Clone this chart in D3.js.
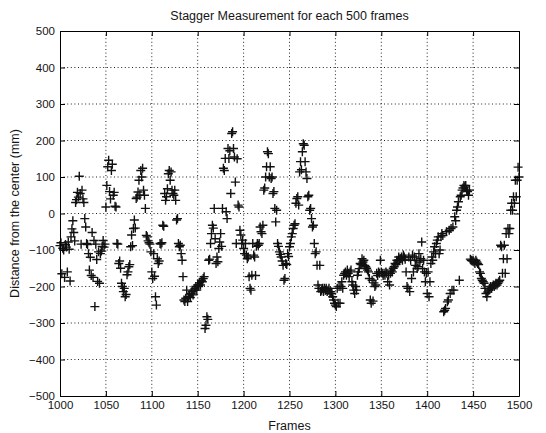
<!DOCTYPE html>
<html>
<head>
<meta charset="utf-8">
<script src="https://cdn.jsdelivr.net/npm/d3@7/dist/d3.min.js"></script>
<style>
  body { margin: 0; background: #fff; }
  text { font-family: "Liberation Sans", Arial, sans-serif; fill: #151515; }
</style>
</head>
<body>
<div id="chart"></div>
<script>
// Size of the figure and of the plot box.
var width = 546;
var height = 433;
var margin = {top: 31, right: 27, bottom: 37, left: 60};

var titleText = "Stagger Measurement for each 500 frames";
var xLabel = "Frames";
var yLabel = "Distance from the center (mm)";

var xTicks = [1000, 1050, 1100, 1150, 1200, 1250, 1300, 1350, 1400, 1450, 1500];
var yTicks = [-500, -400, -300, -200, -100, 0, 100, 200, 300, 400, 500];

// One distance per frame, in blocks of 50 frames.
var firstFrame = 1000;
var framesPerBlock = 50;
var d1000 = [-88,-80,-165,-95,-100,-175,-85,-92,-160,-78,-98,-185,-64,-42,-20,-52,-75,30,38,58,
  45,102,55,-84,64,40,30,-14,-37,-82,-85,-110,-155,-120,-170,-52,-175,-74,-255,-84,
  -126,-186,-105,-191,-110,-103,-90,-74,-92,-84];
var d1050 = [18,77,128,146,60,40,118,135,50,58,20,18,-82,-84,-137,-130,-150,-191,-200,-214,
  -205,-228,-222,-168,-160,-146,-140,-91,-59,-88,-41,-18,-40,41,45,59,91,50,118,100,
  124,64,50,14,-60,-64,-75,-80,-84,-105];
var d1100 = [-160,-178,-110,-172,-228,-251,-124,-137,-130,-82,-84,-80,-32,-35,55,36,46,68,109,118,
  91,114,64,55,50,64,36,-18,-14,-82,-91,-87,-110,-128,-173,-237,-241,-232,-210,-241,
  -228,-223,-230,-219,-214,-223,-210,-205,-200,-210];
var d1150 = [-196,-200,-190,-196,-183,-187,-178,-173,-315,-306,-283,-290,-128,-125,-82,-55,-32,-40,14,-69,
  -137,-119,-132,-96,-78,-55,-90,14,124,118,151,5,-14,178,151,172,55,219,224,178,
  155,86,-82,150,23,18,-46,-59,-82,-73];
var d1200 = [-96,-110,-82,-114,-124,-119,-173,-205,-210,-169,-82,-114,-119,-170,-90,-82,-87,-82,-37,-50,
  -55,-32,64,70,100,128,169,164,100,128,96,100,55,60,14,-23,9,-82,-90,-105,
  -112,-119,-130,-142,-183,-178,-137,-140,-110,-118];
var d1250 = [-91,-82,-64,-55,-41,-32,-28,28,41,46,23,114,142,120,169,191,187,142,114,96,
  46,50,9,14,-14,-37,-32,-82,-110,-105,-142,-196,-205,-142,-214,-210,-205,-214,-205,-210,
  -205,-214,-210,-205,-219,-214,-219,-228,-237,-246];
var d1300 = [-251,-255,-205,-246,-200,-246,-200,-187,-205,-169,-164,-160,-169,-155,-164,-173,-160,-155,-187,-196,
  -210,-219,-200,-210,-169,-160,-151,-137,-140,-124,-133,-128,-142,-146,-150,-155,-160,-178,-237,-246,
  -183,-240,-190,-200,-196,-164,-170,-160,-164,-128];
var d1350 = [-160,-164,-170,-164,-169,-160,-164,-187,-169,-196,-164,-155,-160,-150,-146,-137,-140,-128,-133,-119,
  -128,-124,-119,-128,-114,-119,-125,-160,-200,-205,-119,-214,-128,-178,-114,-160,-119,-142,-128,-151,
  -146,-110,-133,-124,-78,-151,-128,-160,-187,-164];
var d1400 = [-219,-160,-228,-187,-137,-119,-128,-105,-91,-110,-82,-73,-64,-110,-100,-64,-55,-60,-269,-265,
  -260,-50,-242,-237,-46,-219,-41,-210,-37,-210,-9,-20,9,18,32,-183,46,50,64,70,
  77,73,77,64,60,50,64,-125,-128,-130];
var d1450 = [-128,-133,-137,-128,-133,-137,-140,-160,-164,-178,-183,-187,-191,-205,-219,-228,-215,-210,-205,-200,
  -205,-200,-196,-200,-196,-191,-196,-191,-187,-183,-87,-91,-164,-124,-87,-164,-55,-124,-41,-55,
  -41,9,28,9,46,28,91,46,91,127,100];

var blocks = [d1000, d1050, d1100, d1150, d1200, d1250, d1300, d1350, d1400, d1450];

var points = [];
blocks.forEach(function(block, b) {
  block.forEach(function(v, i) {
    points.push({frame: firstFrame + b * framesPerBlock + i, dist: v});
  });
});

var svg = d3.select("#chart").append("svg")
    .attr("width", width)
    .attr("height", height);

svg.append("rect").attr("width", width).attr("height", height).attr("fill", "#fff");

var x = d3.scaleLinear()
    .domain([1000, 1500])
    .range([margin.left, width - margin.right]);
var y = d3.scaleLinear()
    .domain([-500, 500])
    .range([height - margin.bottom, margin.top]);

// Dotted grid
var grid = svg.append("g")
    .attr("stroke", "#222")
    .attr("stroke-width", 1)
    .attr("stroke-dasharray", "1,2.6");
grid.selectAll("line.gx")
    .data(xTicks.slice(1, -1))
    .enter().append("line")
    .attr("x1", function(d) { return x(d); })
    .attr("x2", function(d) { return x(d); })
    .attr("y1", y(500))
    .attr("y2", y(-500));
grid.selectAll("line.gy")
    .data(yTicks.slice(1, -1))
    .enter().append("line")
    .attr("x1", x(1000))
    .attr("x2", x(1500))
    .attr("y1", function(d) { return y(d); })
    .attr("y2", function(d) { return y(d); });

// Markers
svg.append("g")
    .attr("stroke", "#111")
    .attr("stroke-width", 1.4)
    .attr("fill", "none")
  .selectAll("path")
    .data(points)
    .enter().append("path")
    .attr("transform", function(d) { return "translate(" + x(d.frame) + "," + y(d.dist) + ")"; })
    .attr("d", "M-4.5,0H4.5M0,-4.5V4.5");

// Axes with inward ticks on every side, MATLAB style
function styleAxis(g) {
  g.selectAll(".domain").attr("stroke", "#000").attr("stroke-width", 1);
  g.selectAll(".tick line").attr("stroke", "#000");
  g.selectAll("text").attr("font-size", 11.5).attr("fill", "#151515")
    .attr("font-family", "'Liberation Sans', Arial, sans-serif");
}

svg.append("g")
    .attr("transform", "translate(0," + y(-500) + ")")
    .call(d3.axisBottom(x).tickValues(xTicks).tickFormat(d3.format("d"))
      .tickSizeInner(-5).tickSizeOuter(0).tickPadding(5))
    .call(styleAxis);

svg.append("g")
    .attr("transform", "translate(0," + y(500) + ")")
    .call(d3.axisTop(x).tickValues(xTicks).tickFormat("")
      .tickSizeInner(-5).tickSizeOuter(0))
    .call(styleAxis);

svg.append("g")
    .attr("transform", "translate(" + x(1000) + ",0)")
    .call(d3.axisLeft(y).tickValues(yTicks).tickFormat(d3.format("d"))
      .tickSizeInner(-5).tickSizeOuter(0).tickPadding(5))
    .call(styleAxis);

svg.append("g")
    .attr("transform", "translate(" + x(1500) + ",0)")
    .call(d3.axisRight(y).tickValues(yTicks).tickFormat("")
      .tickSizeInner(-5).tickSizeOuter(0))
    .call(styleAxis);

// Title and axis labels
svg.append("text")
    .attr("x", (x(1000) + x(1500)) / 2)
    .attr("y", 20)
    .attr("text-anchor", "middle")
    .attr("font-size", 12.5)
    .text(titleText);

svg.append("text")
    .attr("x", (x(1000) + x(1500)) / 2)
    .attr("y", 430)
    .attr("text-anchor", "middle")
    .attr("font-size", 12.5)
    .text(xLabel);

svg.append("text")
    .attr("transform", "translate(19," + y(0) + ") rotate(-90)")
    .attr("text-anchor", "middle")
    .attr("font-size", 12.5)
    .text(yLabel);
</script>
</body>
</html>
